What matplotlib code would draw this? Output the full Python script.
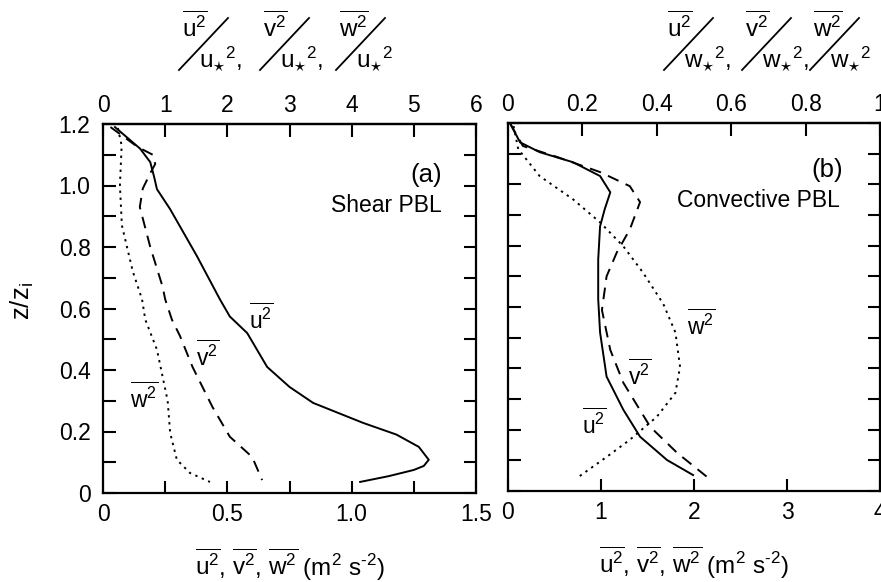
import matplotlib
matplotlib.use("Agg")
import matplotlib.pyplot as plt
from matplotlib.lines import Line2D
from matplotlib.ticker import FixedLocator, FixedFormatter

plt.rcParams['font.family'] = ['Liberation Sans', 'DejaVu Sans']
plt.rcParams['mathtext.fontset'] = 'custom'
plt.rcParams['mathtext.rm'] = 'Liberation Sans'
plt.rcParams['mathtext.it'] = 'Liberation Sans'
plt.rcParams['mathtext.sf'] = 'Liberation Sans'
plt.rcParams['mathtext.bf'] = 'Liberation Sans:bold'

# ---------------- data ----------------
# (a) Shear PBL, x in m^2 s^-2, y = z/zi
u2_a_x = [0.048, 0.149, 0.19, 0.205, 0.217, 0.27, 0.378, 0.47, 0.51, 0.58, 0.66, 0.75, 0.845, 1.046, 1.18, 1.27, 1.31, 1.29, 1.25, 1.15, 1.034]
u2_a_y = [1.19, 1.12, 1.076, 1.03, 0.988, 0.923, 0.77, 0.63, 0.574, 0.52, 0.41, 0.345, 0.293, 0.228, 0.19, 0.15, 0.108, 0.088, 0.075, 0.055, 0.036]
v2_a_x = [0.03, 0.14, 0.20, 0.21, 0.19, 0.16, 0.148, 0.19, 0.24, 0.25, 0.277, 0.31, 0.36, 0.44, 0.51, 0.60, 0.64]
v2_a_y = [1.19, 1.125, 1.10, 1.07, 1.04, 0.99, 0.93, 0.80, 0.67, 0.63, 0.564, 0.51, 0.41, 0.28, 0.183, 0.117, 0.042]
w2_a_x = [0.06, 0.075, 0.068, 0.076, 0.12, 0.157, 0.17, 0.217, 0.26, 0.27, 0.297, 0.35, 0.43]
w2_a_y = [1.187, 1.13, 1.0, 0.87, 0.72, 0.63, 0.564, 0.466, 0.30, 0.196, 0.108, 0.065, 0.036]

# (b) Convective PBL
u2_b_x = [0.02, 0.13, 0.34, 0.70, 0.99, 1.10, 1.04, 0.99, 0.97, 0.97, 0.99, 1.06, 1.24, 1.42, 1.71, 1.99]
u2_b_y = [1.2, 1.137, 1.105, 1.072, 1.027, 0.974, 0.919, 0.863, 0.755, 0.625, 0.517, 0.373, 0.265, 0.177, 0.101, 0.052]
v2_b_x = [0.02, 0.16, 0.53, 0.99, 1.31, 1.42, 1.31, 1.17, 1.06, 1.01, 1.10, 1.24, 1.53, 1.82, 2.14]
v2_b_y = [1.2, 1.125, 1.089, 1.04, 0.994, 0.942, 0.853, 0.778, 0.70, 0.59, 0.46, 0.353, 0.209, 0.124, 0.046]
w2_b_x = [0.06, 0.11, 0.34, 0.70, 0.99, 1.24, 1.45, 1.67, 1.80, 1.85, 1.80, 1.60, 1.31, 1.06, 0.74]
w2_b_y = [1.19, 1.115, 1.027, 0.951, 0.876, 0.798, 0.713, 0.61, 0.517, 0.405, 0.32, 0.242, 0.167, 0.111, 0.042]

a_bottom_labels = ['0', '0.5', '1.0', '1.5']
a_top_labels = ['0', '1', '2', '3', '4', '5', '6']
b_bottom_labels = ['0', '1', '2', '3', '4']
b_top_labels = ['0', '0.2', '0.4', '0.6', '0.8', '1']
y_ticks = [0, 0.2, 0.4, 0.6, 0.8, 1.0, 1.2]
y_minor = [0.1, 0.3, 0.5, 0.7, 0.9, 1.1]
y_labels = ['0', '0.2', '0.4', '0.6', '0.8', '1.0', '1.2']

FS = 16.5
W, H = 881, 582
fig = plt.figure(figsize=(W / 100, H / 100), dpi=100)

def box(l, t, r, b):
    return [l / W, 1 - b / H, (r - l) / W, (b - t) / H]

ax1 = fig.add_axes(box(103, 124, 476, 493))
ax2 = fig.add_axes(box(508, 123, 880, 491))

lw_line = 1.4
for ax, (ux, uy, vx, vy, wx, wy) in [
    (ax1, (u2_a_x, u2_a_y, v2_a_x, v2_a_y, w2_a_x, w2_a_y)),
    (ax2, (u2_b_x, u2_b_y, v2_b_x, v2_b_y, w2_b_x, w2_b_y))]:
    ax.plot(ux, uy, color='black', lw=lw_line, ls='-')
    ax.plot(vx, vy, color='black', lw=lw_line, ls=(0, (6, 4)))
    ax.plot(wx, wy, color='black', lw=lw_line, ls=(0, (1.2, 2.4)))
    ax.set_ylim(0, 1.2)
    for s in ax.spines.values():
        s.set_linewidth(1.6)
    ax.tick_params(which='both', direction='in', length=9, width=1.5,
                   top=False, right=True, labelsize=FS, pad=7)
    ax.yaxis.set_major_locator(FixedLocator(y_ticks))
    ax.yaxis.set_minor_locator(FixedLocator(y_minor))

# panel (a)
ax1.set_xlim(0, 1.5)
ax1.xaxis.set_major_locator(FixedLocator([0, 0.5, 1.0, 1.5]))
ax1.xaxis.set_major_formatter(FixedFormatter(a_bottom_labels))
ax1.xaxis.set_minor_locator(FixedLocator([0.25, 0.75, 1.25]))
ax1.yaxis.set_major_formatter(FixedFormatter(y_labels))
ax1.tick_params(axis='y', which='both', pad=9)
ax1.set_ylabel(r'z/z$_\mathrm{i}$', fontsize=FS + 2)
ax1.yaxis.set_label_coords(-0.18, 0.52)
sec1 = ax1.secondary_xaxis('top', functions=(lambda x: x * 4, lambda x: x / 4))
sec1.xaxis.set_major_locator(FixedLocator(range(7)))
sec1.xaxis.set_major_formatter(FixedFormatter(a_top_labels))
sec1.tick_params(direction='in', length=9, width=1.5, labelsize=FS, pad=5)
sec1.spines['top'].set_linewidth(1.6)

# panel (b)
ax2.set_xlim(0, 4)
ax2.xaxis.set_major_locator(FixedLocator([0, 1, 2, 3, 4]))
ax2.xaxis.set_major_formatter(FixedFormatter(b_bottom_labels))
ax2.yaxis.set_major_formatter(FixedFormatter([''] * 7))
sec2 = ax2.secondary_xaxis('top', functions=(lambda x: x / 4, lambda x: x * 4))
sec2.xaxis.set_major_locator(FixedLocator([0, 0.2, 0.4, 0.6, 0.8, 1.0]))
sec2.xaxis.set_major_formatter(FixedFormatter(b_top_labels))
sec2.tick_params(direction='in', length=9, width=1.5, labelsize=FS, pad=5)
sec2.spines['top'].set_linewidth(1.6)

xl = r'$\overline{\mathrm{u}^2}$, $\overline{\mathrm{v}^2}$, $\overline{\mathrm{w}^2}$ (m$^2$ s$^{\text{-2}}$)'
for ax in (ax1, ax2):
    ax.set_xlabel(xl, fontsize=FS + 1)
    ax.xaxis.set_label_coords(0.5, -0.195)
    ax.xaxis.label.set_va('center')

# curve labels
def ov(c):
    return r'$\overline{\mathrm{%s}^2}$' % c

lab_fs = FS
ax1.text(0.635, 0.565, ov('u'), fontsize=lab_fs, ha='center', va='center')
ax1.text(0.42, 0.445, ov('v'), fontsize=lab_fs, ha='center', va='center')
ax1.text(0.165, 0.31, ov('w'), fontsize=lab_fs, ha='center', va='center')
ax2.text(2.08, 0.54, ov('w'), fontsize=lab_fs, ha='center', va='center')
ax2.text(1.42, 0.377, ov('v'), fontsize=lab_fs, ha='center', va='center')
ax2.text(0.93, 0.217, ov('u'), fontsize=lab_fs, ha='center', va='center')

ax1.text(1.363, 1.034, '(a)', fontsize=FS + 2, ha='right', va='center')
ax1.text(1.363, 0.936, 'Shear PBL', fontsize=FS, ha='right', va='center')
ax2.text(3.60, 1.046, '(b)', fontsize=FS + 2, ha='right', va='center')
ax2.text(3.57, 0.948, 'Convective PBL', fontsize=FS, ha='right', va='center')

# stacked fraction labels on top
def frac_group(x0, num, den, end):
    fx = lambda px: px / W
    fy = lambda py: 1 - py / H
    fig.text(fx(x0 + 2), fy(12), r'$\overline{\mathrm{%s}^2}$' % num, fontsize=FS + 1, ha='left', va='top')
    fig.text(fx(x0 + 19), fy(67), r'$\mathrm{%s}_{\star}{}^{2}$%s' % (den, end),
             fontsize=FS + 1, ha='left', va='baseline')
    fig.add_artist(Line2D([fx(x0 - 1), fx(x0 + 48)], [fy(70), fy(18)],
                          transform=fig.transFigure, color='black', lw=1.3))

for x0, c, end in [(180, 'u', ','), (261, 'v', ','), (337, 'w', '')]:
    frac_group(x0, c, 'u', end)
for x0, c, end in [(665, 'u', ','), (743, 'v', ','), (811, 'w', '')]:
    frac_group(x0, c, 'w', end)

fig.savefig('out.png', dpi=100)
